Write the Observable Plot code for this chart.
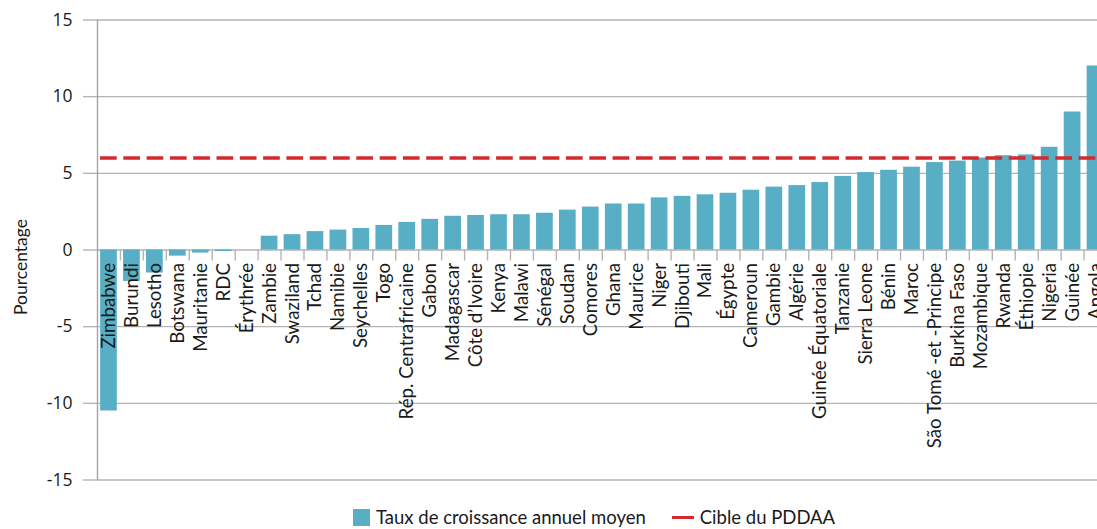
<!DOCTYPE html>
<html lang="fr">
<head>
<meta charset="utf-8">
<script src="https://cdn.jsdelivr.net/npm/d3@7"></script>
<script src="https://cdn.jsdelivr.net/npm/@observablehq/plot@0.6"></script>
<style>
  html, body { margin: 0; padding: 0; background: #fff; }
  #chart { width: 1097px; height: 529px; overflow: hidden; position: relative; }
  .legend {
    display: flex; align-items: center; justify-content: flex-start;
    padding-left: 353px; margin-top: 12px; height: 19px; line-height: 19px;
    font-family: Lato, sans-serif; font-size: 18.5px; color: #1a1a1a;
  }
  .legend .item { display: flex; align-items: center; }
  .legend .swatch { width: 17px; height: 17px; margin-right: 6px; }
  .legend .line { width: 22px; height: 3px; margin-right: 6px; }
  .legend .gap { width: 26px; }
</style>
</head>
<body>
<div id="chart"></div>
<script>
// Average annual growth rate by country (%), sorted ascending
const countries = [
  "Zimbabwe", "Burundi", "Lesotho", "Botswana", "Mauritanie", "RDC", "Érythrée",
  "Zambie", "Swaziland", "Tchad", "Namibie", "Seychelles", "Togo",
  "Rép. Centrafricaine", "Gabon", "Madagascar", "Côte d’Ivoire", "Kenya", "Malawi",
  "Sénégal", "Soudan", "Comores", "Ghana", "Maurice", "Niger", "Djibouti", "Mali",
  "Égypte", "Cameroun", "Gambie", "Algérie", "Guinée Équatoriale", "Tanzanie",
  "Sierra Leone", "Bénin", "Maroc", "São Tomé -et -Principe", "Burkina Faso",
  "Mozambique", "Rwanda", "Éthiopie", "Nigeria", "Guinée", "Angola"
];
const growth = [
  -10.5, -2.05, -1.5, -0.4, -0.2, -0.1, 0,
  0.9, 1.0, 1.2, 1.3, 1.4, 1.6,
  1.8, 2.0, 2.2, 2.25, 2.3, 2.3,
  2.4, 2.6, 2.8, 3.0, 3.0, 3.4, 3.5, 3.6,
  3.7, 3.9, 4.1, 4.2, 4.4, 4.8,
  5.05, 5.2, 5.4, 5.7, 5.8,
  6.0, 6.15, 6.2, 6.7, 9.0, 12.0
];
// CAADP (PDDAA) 6% agricultural growth target
const target = 6;
const yTicks = [-15, -10, -5, 0, 5, 10, 15];
const axisTitle = "Pourcentage";
const legendLabels = ["Taux de croissance annuel moyen", "Cible du PDDAA"];

const barColor = "#58aec4";
const targetColor = "#d42a2f";
const gridColor = "#b4b4b4";
const textColor = "#1a1a1a";

const data = countries.map((country, i) => ({country, value: growth[i]}));

// Band layout: the last band runs past the right edge and is clipped
const xRange = [97, 1106.5];
const padIn = 0.272, padOut = 0.136;
const step = (xRange[1] - xRange[0]) / (countries.length - padIn + 2 * padOut);

const chart = Plot.plot({
  width: 1097,
  height: 496,
  marginLeft: 97,
  marginRight: 0,
  marginTop: 19.5,
  marginBottom: 16.5,
  style: {fontFamily: "Lato, sans-serif", background: "#fff", overflow: "visible"},
  x: {type: "band", domain: countries, range: xRange, paddingInner: padIn, paddingOuter: padOut, axis: null},
  y: {domain: [-15, 15]},
  marks: [
    Plot.ruleY(yTicks, {stroke: gridColor, strokeWidth: 1.4}),
    Plot.axisY(yTicks, {
      label: null, tickSize: 14, tickPadding: 11,
      stroke: gridColor, strokeWidth: 1.4, fill: textColor,
      fontFamily: "'Open Sans', sans-serif", fontSize: 17.5,
      tickFormat: d => String(d)
    }),
    // left axis line on the outer edge of the first band
    Plot.ruleX([countries[0]], {dx: -step / 2, stroke: "#a4a4a4", strokeWidth: 1.4}),
    // category ticks between bars, hanging below the zero line
    Plot.ruleX(countries.slice(0, -1), {
      x: d => d, y1: () => 0, y2: () => 0, insetBottom: -11,
      dx: step / 2, stroke: gridColor, strokeWidth: 1.4, clip: true
    }),
    Plot.barY(data, {x: "country", y: "value", fill: barColor, clip: true}),
    Plot.ruleY([target], {
      stroke: targetColor, strokeWidth: 3.5,
      strokeDasharray: "16.7 6.6", strokeDashoffset: 20.3
    }),
    Plot.text(data, {
      x: "country", y: () => 0, text: "country",
      rotate: -90, textAnchor: "end", dy: 13,
      fontSize: 18.7, fill: textColor, clip: true
    }),
    Plot.text([axisTitle], {
      frameAnchor: "left", textAnchor: "middle", rotate: -90,
      dx: -76, dy: 17, fontSize: 17.5, fill: textColor
    })
  ]
});

const root = document.getElementById("chart");
root.appendChild(chart);

// Legend below the chart
const legend = document.createElement("div");
legend.className = "legend";
legend.innerHTML = `<div class="item"><div class="swatch" style="background:${barColor}"></div><span>${legendLabels[0]}</span></div><div class="gap"></div><div class="item"><div class="line" style="background:${targetColor}"></div><span>${legendLabels[1]}</span></div>`;
root.appendChild(legend);
</script>
</body>
</html>
